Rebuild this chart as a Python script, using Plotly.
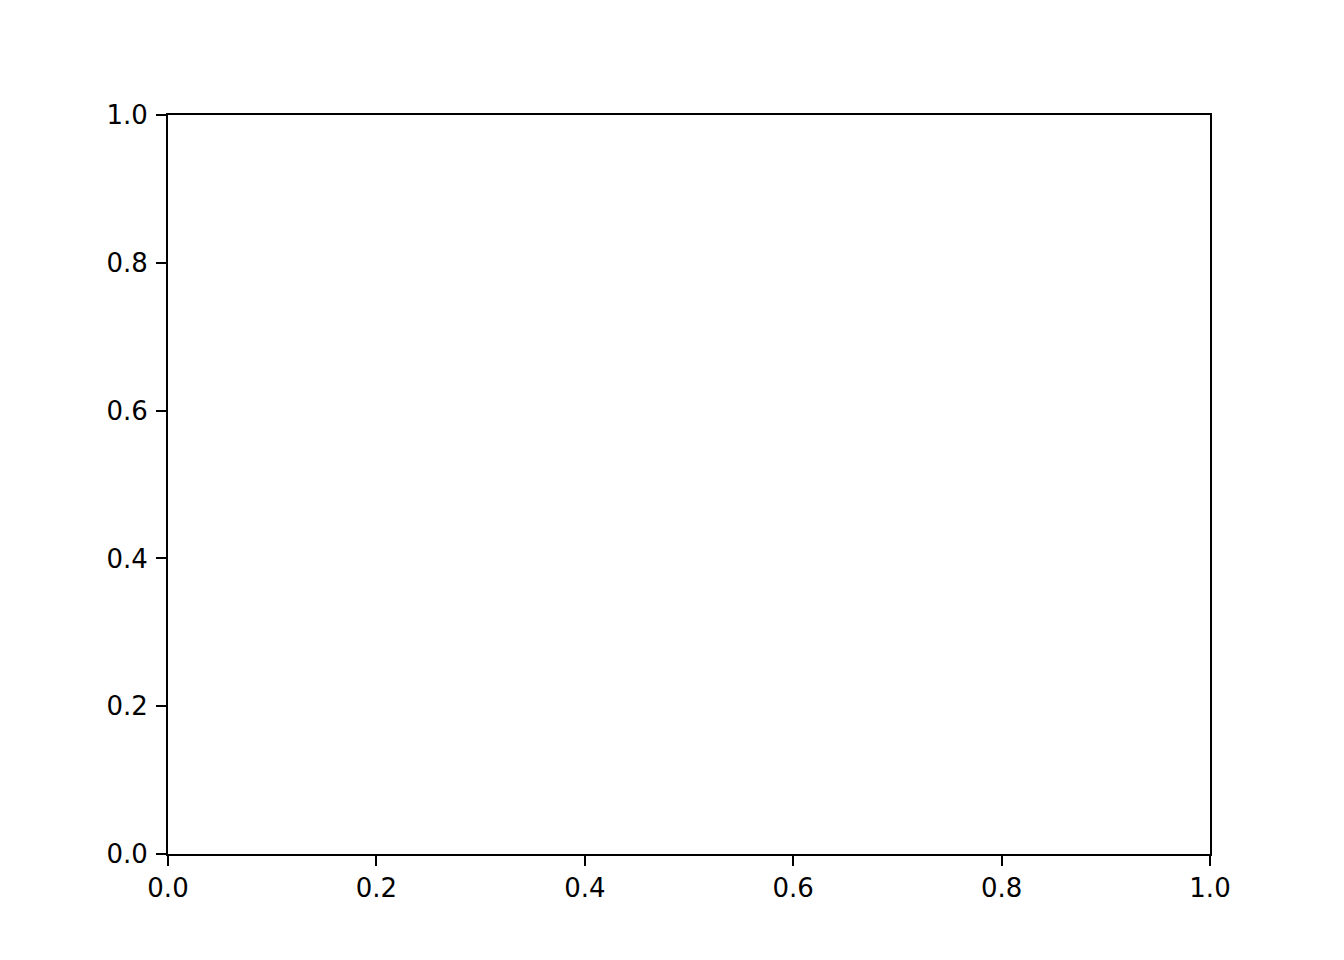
import plotly.graph_objects as go

# empty axes, only the ticks carry information
x_ticks = [0.0, 0.2, 0.4, 0.6, 0.8, 1.0]
x_labels = ["0.0", "0.2", "0.4", "0.6", "0.8", "1.0"]
y_ticks = [0.0, 0.2, 0.4, 0.6, 0.8, 1.0]
y_labels = ["0.0", "0.2", "0.4", "0.6", "0.8", "1.0"]
x_range = [0, 1]
y_range = [0, 1]

fig = go.Figure()
fig.add_trace(go.Scatter(x=[], y=[], showlegend=False))

axis_style = dict(
    showgrid=False, zeroline=False,
    showline=True, linecolor="black", linewidth=2, mirror=True,
    ticks="outside", ticklen=10, tickwidth=2, tickcolor="black",
    tickfont=dict(family="DejaVu Sans", size=26, color="black"),
)

fig.update_xaxes(range=x_range, tickmode="array", tickvals=x_ticks,
                 ticktext=x_labels, ticklabelstandoff=0, **axis_style)
fig.update_yaxes(range=y_range, tickmode="array", tickvals=y_ticks,
                 ticktext=y_labels, ticklabelstandoff=3, **axis_style)

# page body adds 8px, so the figure is 8px smaller on the left/top
fig.update_layout(
    width=1336, height=952,
    margin=dict(l=160, r=134, t=107, b=106),
    plot_bgcolor="white", paper_bgcolor="white",
)

fig.write_html("out.html")
